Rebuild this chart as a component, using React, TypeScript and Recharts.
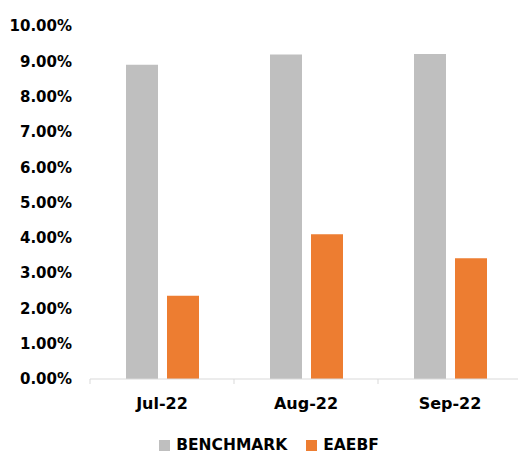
import React from 'react';
import { BarChart, Bar, XAxis, YAxis, Legend } from 'recharts';

const categories = ['Jul-22', 'Aug-22', 'Sep-22'];
const benchmark = [8.9, 9.19, 9.21];
const eaebf = [2.36, 4.1, 3.42];
const yTicks = [0, 1, 2, 3, 4, 5, 6, 7, 8, 9, 10];

const data = categories.map((c, i) => ({ name: c, BENCHMARK: benchmark[i], EAEBF: eaebf[i] }));

const FONT = '"DejaVu Sans", sans-serif';

const XTick = (props: any) => {
  const { x, y, payload } = props;
  const off = payload && payload.offset != null ? payload.offset : 0;
  return (
    <g>
      <line x1={x - off} y1={y} x2={x - off} y2={y + 5} stroke="#d9d9d9" strokeWidth={1} />
      <text x={x} y={y + 24} textAnchor="middle" dominantBaseline="central" fontFamily={FONT} fontWeight="bold" fontSize={16} fill="#000">
        {payload.value}
      </text>
    </g>
  );
};

const LegendContent = (props: any) => {
  const items = props.payload || [];
  return (
    <div style={{ height: 26, boxSizing: 'border-box', paddingTop: 12, paddingLeft: 20, display: 'flex', justifyContent: 'center', fontFamily: FONT, fontWeight: 'bold', fontSize: 15.5, color: '#000' }}>
      {items.map((it: any, i: number) => (
        <div key={i} style={{ display: 'flex', alignItems: 'center', height: 14, marginLeft: i === 0 ? 0 : 19 }}>
          <div style={{ width: 11, height: 11, background: it.color, marginRight: 6 }} />
          <span style={{ lineHeight: '14px' }}>{it.value}</span>
        </div>
      ))}
    </div>
  );
};

export default function App() {
  return (
    <div style={{ position: 'absolute', left: 0, top: 0, width: 518, height: 452, overflow: 'hidden', background: '#fff' }}>
      <BarChart width={522} height={452} data={data} margin={{ top: 26, right: 0, bottom: 0, left: 0 }} barSize={32} barGap={9}>
        <YAxis
          width={90}
          domain={[0, 10]}
          ticks={yTicks}
          interval={0}
          axisLine={false}
          tickLine={false}
          tickMargin={12}
          tickFormatter={(v: number) => v.toFixed(2) + '%'}
          tick={{ fontFamily: FONT, fontWeight: 'bold', fontSize: 15, fill: '#000' }}
        />
        <XAxis
          dataKey="name"
          height={47}
          axisLine={{ stroke: '#d9d9d9', strokeWidth: 1 }}
          tickLine={false}
          tickSize={0}
          tickMargin={0}
          interval={0}
          tick={<XTick />}
        />
        <Legend verticalAlign="bottom" content={<LegendContent />} wrapperStyle={{ left: 0, width: 518 }} />
        <Bar dataKey="BENCHMARK" fill="#bfbfbf" isAnimationActive={false} />
        <Bar dataKey="EAEBF" fill="#ed7d31" isAnimationActive={false} />
      </BarChart>
    </div>
  );
}
